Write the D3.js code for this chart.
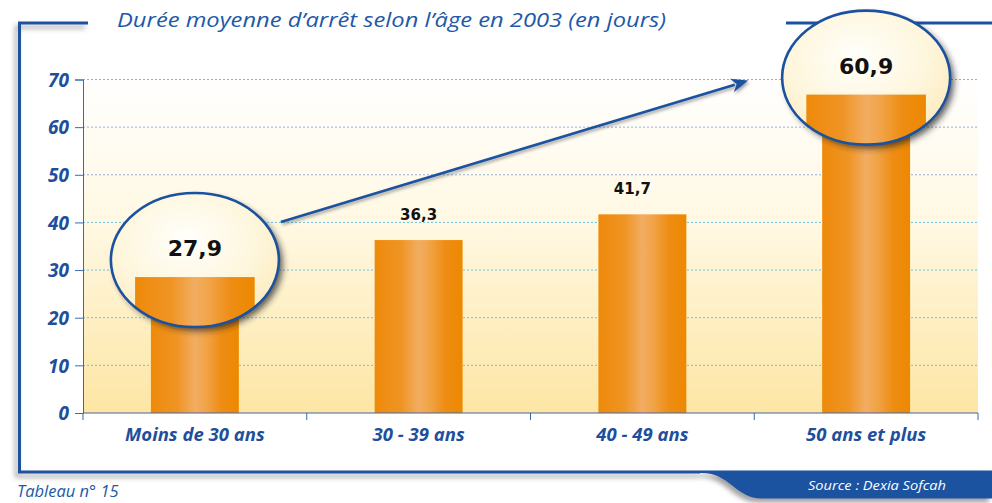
<!DOCTYPE html>
<html><head><meta charset="utf-8">
<script src="https://cdn.jsdelivr.net/npm/d3@7"></script>
<style>html,body{margin:0;padding:0;background:#fff;overflow:hidden}svg{display:block}</style>
</head><body>
<script>
// ---- data ----
const categories = ["Moins de 30 ans", "30 - 39 ans", "40 - 49 ans", "50 ans et plus"];
const values = [27.9, 36.3, 41.7, 60.9];
const valueLabels = ["27,9", "36,3", "41,7", "60,9"];
const yTicks = [0, 10, 20, 30, 40, 50, 60, 70];
const lensCategories = ["Moins de 30 ans", "50 ans et plus"];
const lensCenters = [32.1, 70.4];   // lens centre, in data units
const title = "Durée moyenne d’arrêt selon l’âge en 2003 (en jours)";
const source = "Source : Dexia Sofcah";
const tableLabel = "Tableau n° 15";

const W = 992, H = 503;
const blue = "#1b52a0";
const svg = d3.select("body").append("svg").attr("width", W).attr("height", H);
const defs = svg.append("defs");

const x = d3.scaleBand().domain(categories).range([83, 978]).paddingInner(0.607).paddingOuter(0.3035);
const y = d3.scaleLinear().domain([0, 70]).range([413, 79.5]);

// gradients
const bg = defs.append("linearGradient").attr("id", "bg").attr("x1", 0).attr("y1", 0).attr("x2", 0).attr("y2", 1);
bg.append("stop").attr("offset", "0%").attr("stop-color", "#ffffff");
bg.append("stop").attr("offset", "45%").attr("stop-color", "#fff8e2");
bg.append("stop").attr("offset", "100%").attr("stop-color", "#fde6a4");

const barG = defs.append("linearGradient").attr("id", "bar").attr("x1", 0).attr("y1", 0).attr("x2", 1).attr("y2", 0);
[[0, "#ee8a0a"], [0.3, "#ef9424"], [0.5, "#f2ad62"], [0.62, "#f1a448"], [0.8, "#ee8d14"], [1, "#ed8800"]]
  .forEach(([o, c]) => barG.append("stop").attr("offset", o).attr("stop-color", c));

const lensG = defs.append("radialGradient").attr("id", "lens").attr("cx", "45%").attr("cy", "35%").attr("r", "70%");
lensG.append("stop").attr("offset", "0%").attr("stop-color", "#fffffb");
lensG.append("stop").attr("offset", "60%").attr("stop-color", "#fef6dc");
lensG.append("stop").attr("offset", "100%").attr("stop-color", "#fbe9b8");

const sh = defs.append("filter").attr("id", "shadow").attr("x", "-30%").attr("y", "-30%").attr("width", "160%").attr("height", "160%");
sh.append("feDropShadow").attr("dx", 4).attr("dy", 4).attr("stdDeviation", 3).attr("flood-color", "#222").attr("flood-opacity", 0.7);
const sh2 = defs.append("filter").attr("id", "shadow2").attr("x", "-20%").attr("y", "-20%").attr("width", "140%").attr("height", "140%");
sh2.append("feDropShadow").attr("dx", 1.5).attr("dy", 2).attr("stdDeviation", 1.5).attr("flood-color", "#333").attr("flood-opacity", 0.45);
const sh3 = defs.append("filter").attr("id", "frameShadow").attr("x", "-5%").attr("y", "-5%").attr("width", "110%").attr("height", "120%");
sh3.append("feDropShadow").attr("dx", -3).attr("dy", 4).attr("stdDeviation", 2.5).attr("flood-color", "#555").attr("flood-opacity", 0.55);

// ---- frame ----
const frame = svg.append("g").attr("filter", "url(#frameShadow)");
frame.append("path")
  .attr("d", "M88,23 L19.5,23 L19.5,472 L700,472")
  .attr("fill", "none").attr("stroke", blue).attr("stroke-width", 3);
frame.append("path")
  .attr("d", "M700,470.5 L992,470.5 L992,498.5 L762,498.5 C735,498.5 730,472 700,473 Z")
  .attr("fill", blue);
svg.append("line").attr("x1", 786).attr("x2", 992).attr("y1", 23).attr("y2", 23)
  .attr("stroke", blue).attr("stroke-width", 3);

svg.append("text").attr("x", 117).attr("y", 27).text(title)
  .attr("font-family", "Open Sans").attr("font-style", "italic").attr("font-size", 20)
  .attr("fill", "#2159a8").attr("textLength", 549).attr("lengthAdjust", "spacingAndGlyphs");

svg.append("text").attr("x", 808).attr("y", 490).text(source)
  .attr("font-family", "Open Sans").attr("font-style", "italic").attr("font-size", 12.5)
  .attr("fill", "#ffffff").attr("textLength", 138).attr("lengthAdjust", "spacingAndGlyphs");

svg.append("text").attr("x", 17).attr("y", 497).text(tableLabel)
  .attr("font-family", "Open Sans").attr("font-style", "italic").attr("font-size", 16.5)
  .attr("fill", "#2159a8");

// ---- plot ----
svg.append("rect").attr("x", 83).attr("y", y(70) - 6).attr("width", 978 - 83).attr("height", y(0) - y(70) + 6)
  .attr("fill", "url(#bg)");

svg.append("g").selectAll("line").data(yTicks.filter(d => d > 0)).join("line")
  .attr("x1", 83).attr("x2", 978).attr("y1", d => y(d)).attr("y2", d => y(d))
  .attr("stroke", d => d >= 50 ? "#8fb0de" : "#6cc0df").attr("stroke-width", 1).attr("stroke-dasharray", "2,2");

svg.append("g").selectAll("rect").data(values).join("rect")
  .attr("x", (d, i) => x(categories[i])).attr("width", x.bandwidth())
  .attr("y", d => y(d)).attr("height", d => y(0) - y(d))
  .attr("fill", "url(#bar)");

// value labels for non-lens bars
svg.append("g").selectAll("text").data(values.map((v, i) => ({ v, i })).filter(d => !lensCategories.includes(categories[d.i]))).join("text")
  .attr("x", d => x(categories[d.i]) + x.bandwidth() / 2 - (d.i === 2 ? 10 : 0)).attr("y", d => y(d.v) - 20)
  .attr("text-anchor", "middle").text(d => valueLabels[d.i])
  .attr("font-family", "DejaVu Sans").attr("font-weight", "bold").attr("font-size", 15).attr("fill", "#111");

// axes
const yAxis = svg.append("g").attr("transform", "translate(83,0)")
  .call(d3.axisLeft(y).tickValues(yTicks).tickSize(8).tickPadding(6));
yAxis.select(".domain").attr("stroke", "#3a68b0");
yAxis.selectAll(".tick line").attr("stroke", "#3a68b0");
yAxis.selectAll("text").attr("font-family", "Open Sans").attr("font-weight", "bold").attr("font-style", "italic")
  .attr("font-size", 19).attr("fill", "#1f4f9c").attr("dy", "0.36em");

const xAxis = svg.append("g").attr("transform", `translate(0,${y(0)})`);
xAxis.append("line").attr("x1", 83).attr("x2", 978).attr("stroke", "#3a68b0");
xAxis.selectAll(".tk").data(d3.range(categories.length + 1)).join("line")
  .attr("x1", i => 83 + i * x.step()).attr("x2", i => 83 + i * x.step()).attr("y1", 0).attr("y2", 7)
  .attr("stroke", "#3a68b0");
xAxis.selectAll("text").data(categories).join("text")
  .attr("x", d => x(d) + x.bandwidth() / 2).attr("y", 28).attr("text-anchor", "middle").text(d => d)
  .attr("font-family", "Open Sans").attr("font-weight", "bold").attr("font-style", "italic")
  .attr("font-size", 18.5).attr("fill", "#1f4f9c");

// ---- arrow between lenses ----
const rx = 84, ry = 67, mag = 1.36;
const lensPos = lensCategories.map((c, k) => ({
  c, cx: x(c) + x.bandwidth() / 2, cy: y(lensCenters[k]), label: valueLabels[categories.indexOf(c)]
}));
const a0 = { x: lensPos[0].cx + rx + 2, y: lensPos[0].cy - 38 };
const a1 = { x: lensPos[1].cx - rx - 34, y: lensPos[1].cy + 3 };
const ang = Math.atan2(a1.y - a0.y, a1.x - a0.x);
const ah = 17, aw = 7;
const arrow = svg.append("g").attr("filter", "url(#shadow2)");
arrow.append("line").attr("x1", a0.x).attr("y1", a0.y)
  .attr("x2", a1.x - Math.cos(ang) * (ah - 3)).attr("y2", a1.y - Math.sin(ang) * (ah - 3))
  .attr("stroke", blue).attr("stroke-width", 2.6);
arrow.append("path")
  .attr("d", () => {
    const bx = a1.x - Math.cos(ang) * ah, by = a1.y - Math.sin(ang) * ah;
    const nx = -Math.sin(ang) * aw, ny = Math.cos(ang) * aw;
    const mx = a1.x - Math.cos(ang) * (ah - 5), my = a1.y - Math.sin(ang) * (ah - 5);
    return `M${a1.x},${a1.y} L${bx + nx},${by + ny} L${mx},${my} L${bx - nx},${by - ny} Z`;
  }).attr("fill", blue);

// ---- lenses ----
lensPos.forEach((L, k) => {
  const id = "clip" + k;
  defs.append("clipPath").attr("id", id).append("ellipse").attr("cx", L.cx).attr("cy", L.cy).attr("rx", rx).attr("ry", ry);
  const g = svg.append("g");
  g.append("ellipse").attr("cx", L.cx).attr("cy", L.cy).attr("rx", rx).attr("ry", ry)
    .attr("fill", "url(#lens)").attr("filter", "url(#shadow)");
  const inner = g.append("g").attr("clip-path", `url(#${id})`);
  const bw = x.bandwidth() * mag;
  inner.append("rect").attr("x", L.cx - bw / 2).attr("width", bw)
    .attr("y", L.cy + 17).attr("height", ry + 10).attr("fill", "url(#bar)");
  g.append("ellipse").attr("cx", L.cx).attr("cy", L.cy).attr("rx", rx).attr("ry", ry)
    .attr("fill", "none").attr("stroke", blue).attr("stroke-width", 2.6);
  g.append("text").attr("x", L.cx).attr("y", L.cy - 4).attr("text-anchor", "middle").text(L.label)
    .attr("font-family", "DejaVu Sans").attr("font-weight", "bold").attr("font-size", 22).attr("fill", "#111");
});
</script>
</body></html>
